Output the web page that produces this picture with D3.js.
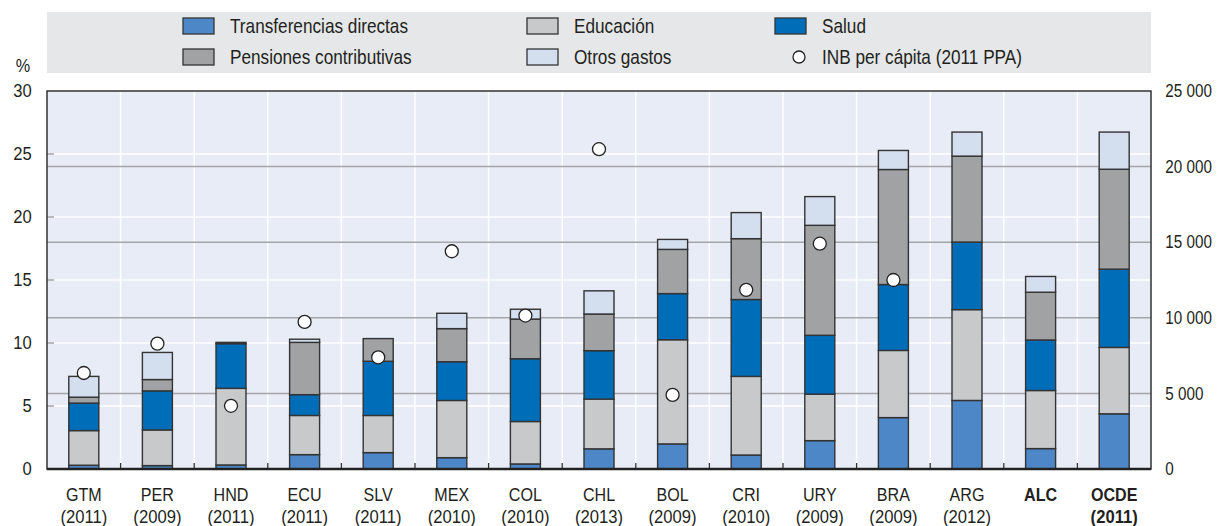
<!DOCTYPE html>
<html lang="es">
<head>
    <meta charset="UTF-8">
    <script src="https://d3js.org/d3.v7.min.js"></script>
    <title>Gasto social e INB per cápita</title>
    <style>
        body {
            margin: 0;
            padding: 0;
            background-color: white;
        }
        svg text {
            font-family: "Liberation Sans Narrow", "Arial Narrow", "Liberation Sans", Arial, sans-serif;
            fill: #231f20;
        }
    </style>
</head>
<body>
    <svg id="chart" width="1221" height="526"></svg>
    <script>
        // data
        const categories = ["GTM", "PER", "HND", "ECU", "SLV", "MEX", "COL", "CHL", "BOL", "CRI", "URY", "BRA", "ARG", "ALC", "OCDE"];
        const years = ["(2011)", "(2009)", "(2011)", "(2011)", "(2011)", "(2010)", "(2010)", "(2013)", "(2009)", "(2010)", "(2009)", "(2009)", "(2012)", "", "(2011)"];
        const boldCats = ["ALC", "OCDE"];

        const transferencias = [0.30, 0.27, 0.32, 1.14, 1.30, 0.90, 0.40, 1.60, 1.99, 1.11, 2.25, 4.08, 5.44, 1.62, 4.38];
        const educacion      = [2.75, 2.83, 6.08, 3.11, 2.95, 4.54, 3.37, 3.95, 8.27, 6.24, 3.69, 5.33, 7.21, 4.61, 5.27];
        const salud          = [2.18, 3.10, 3.55, 1.65, 4.30, 3.07, 4.98, 3.84, 3.66, 6.10, 4.67, 5.23, 5.36, 4.01, 6.21];
        const pensiones      = [0.47, 0.90, 0.10, 4.15, 1.80, 2.63, 3.15, 2.91, 3.51, 4.83, 8.73, 9.13, 6.82, 3.79, 7.93];
        const otros          = [1.65, 2.15, 0.00, 0.25, 0.00, 1.22, 0.78, 1.84, 0.79, 2.07, 2.28, 1.51, 1.91, 1.25, 2.95];
        const inb            = [6350, 8290, 4180, 9730, 7380, 14400, 10150, 21150, 4900, 11850, 14900, 12500, null, null, null];

        const seriesKeys = ["transferencias", "educacion", "salud", "pensiones", "otros"];
        const seriesLabels = {
            transferencias: "Transferencias directas",
            educacion: "Educación",
            salud: "Salud",
            pensiones: "Pensiones contributivas",
            otros: "Otros gastos"
        };
        const seriesColors = {
            transferencias: "#4d87c7",
            educacion: "#c8c9cb",
            salud: "#006db8",
            pensiones: "#a1a2a4",
            otros: "#d3deef"
        };

        const rows = categories.map((c, i) => ({
            cat: c,
            transferencias: transferencias[i],
            educacion: educacion[i],
            salud: salud[i],
            pensiones: pensiones[i],
            otros: otros[i],
            inb: inb[i]
        }));

        const svg = d3.select("#chart");
        const margin = {top: 91, right: 70, bottom: 57, left: 47};
        const width = 1221 - margin.left - margin.right;
        const height = 526 - margin.top - margin.bottom;

        const x = d3.scaleBand().domain(categories).range([margin.left, margin.left + width]).paddingInner(0).paddingOuter(0);
        const y = d3.scaleLinear().domain([0, 30]).range([margin.top + height, margin.top]);
        const y2 = d3.scaleLinear().domain([0, 25000]).range([margin.top + height, margin.top]);
        const barW = 30;

        // text squeezed horizontally to mimic the condensed face of the original
        function narrowText(parent, tx, ty, str, size, squeeze, anchor, weight) {
            return parent.append("text")
                .attr("transform", `translate(${tx},${ty}) scale(${squeeze},1)`)
                .attr("text-anchor", anchor || "start")
                .attr("font-size", size)
                .attr("font-weight", weight || "normal")
                .text(str);
        }

        // legend band
        svg.append("rect")
            .attr("x", 47).attr("y", 12)
            .attr("width", 1104).attr("height", 61)
            .attr("fill", "#e6e7e9");

        const legendItems = [
            {key: "transferencias", col: 0, row: 0},
            {key: "educacion", col: 1, row: 0},
            {key: "salud", col: 2, row: 0},
            {key: "pensiones", col: 0, row: 1},
            {key: "otros", col: 1, row: 1},
            {key: "inb", col: 2, row: 1}
        ];
        const legendColX = [183, 527, 775];
        const legendRowY = [26, 57];
        const legend = svg.append("g");
        legendItems.forEach(it => {
            const lx = legendColX[it.col];
            const ly = legendRowY[it.row];
            if (it.key === "inb") {
                legend.append("circle")
                    .attr("cx", lx + 24).attr("cy", ly)
                    .attr("r", 6)
                    .attr("fill", "white").attr("stroke", "#222").attr("stroke-width", 1.3);
                narrowText(legend, lx + 47, ly + 6.5, "INB per cápita (2011 PPA)", 20, 0.86);
            } else {
                legend.append("rect")
                    .attr("x", lx).attr("y", ly - 8)
                    .attr("width", 31).attr("height", 16)
                    .attr("fill", seriesColors[it.key])
                    .attr("stroke", "#333").attr("stroke-width", 1.3);
                narrowText(legend, lx + 47, ly + 6.5, seriesLabels[it.key], 20, 0.86);
            }
        });

        // plot background
        svg.append("rect")
            .attr("x", margin.left).attr("y", margin.top)
            .attr("width", width).attr("height", height)
            .attr("fill", "#e8ecf6");

        // white gridlines (left ticks)
        const leftTicks = [0, 5, 10, 15, 20, 25, 30];
        svg.append("g").selectAll("line")
            .data(leftTicks.filter(t => t > 0 && t < 30))
            .enter().append("line")
            .attr("x1", margin.left).attr("x2", margin.left + width)
            .attr("y1", d => y(d)).attr("y2", d => y(d))
            .attr("stroke", "white").attr("stroke-width", 1.5);

        // vertical white lines between categories
        const bounds = categories.slice(1).map(c => x(c));
        svg.append("g").selectAll("line")
            .data(bounds)
            .enter().append("line")
            .attr("x1", d => d).attr("x2", d => d)
            .attr("y1", margin.top).attr("y2", margin.top + height)
            .attr("stroke", "white").attr("stroke-width", 1.5);

        // gray gridlines (right ticks)
        const rightTicks = [0, 5000, 10000, 15000, 20000, 25000];
        svg.append("g").selectAll("line")
            .data(rightTicks.filter(t => t > 0 && t < 25000))
            .enter().append("line")
            .attr("x1", margin.left).attr("x2", margin.left + width)
            .attr("y1", d => y2(d)).attr("y2", d => y2(d))
            .attr("stroke", "#a3a5a8").attr("stroke-width", 1.5);

        // left tick marks
        svg.append("g").selectAll("line")
            .data(leftTicks.filter(t => t > 0 && t < 30))
            .enter().append("line")
            .attr("x1", margin.left).attr("x2", margin.left + 7)
            .attr("y1", d => y(d)).attr("y2", d => y(d))
            .attr("stroke", "#a3a5a8").attr("stroke-width", 1.5);

        // bottom tick marks at category boundaries
        svg.append("g").selectAll("line")
            .data(bounds)
            .enter().append("line")
            .attr("x1", d => d).attr("x2", d => d)
            .attr("y1", margin.top + height).attr("y2", margin.top + height - 6)
            .attr("stroke", "#333").attr("stroke-width", 1.3);

        // stacked bars
        const stack = d3.stack().keys(seriesKeys);
        const stacked = stack(rows);
        const barLayer = svg.append("g");
        stacked.forEach(layer => {
            barLayer.append("g")
                .selectAll("rect")
                .data(layer.filter(d => d[1] - d[0] > 0))
                .enter().append("rect")
                .attr("x", d => x(d.data.cat) + x.bandwidth() / 2 - barW / 2)
                .attr("width", barW)
                .attr("y", d => y(d[1]))
                .attr("height", d => y(d[0]) - y(d[1]))
                .attr("fill", seriesColors[layer.key])
                .attr("stroke", "#333")
                .attr("stroke-width", 1.4);
        });

        // INB dots
        svg.append("g").selectAll("circle")
            .data(rows.filter(d => d.inb !== null))
            .enter().append("circle")
            .attr("cx", d => x(d.cat) + x.bandwidth() / 2)
            .attr("cy", d => y2(d.inb))
            .attr("r", 6.5)
            .attr("fill", "white")
            .attr("stroke", "#222")
            .attr("stroke-width", 1.3);

        // frame
        svg.append("rect")
            .attr("x", margin.left).attr("y", margin.top)
            .attr("width", width).attr("height", height)
            .attr("fill", "none")
            .attr("stroke", "#333").attr("stroke-width", 1.5);
        svg.append("line")
            .attr("x1", margin.left).attr("x2", margin.left + width)
            .attr("y1", margin.top + height).attr("y2", margin.top + height)
            .attr("stroke", "#222").attr("stroke-width", 2.5);

        // left axis labels
        const yAxis = d3.axisLeft(y).tickValues(leftTicks).tickSize(0).tickPadding(16);
        const gy = svg.append("g")
            .attr("transform", `translate(${margin.left},0)`)
            .call(yAxis);
        gy.select(".domain").remove();
        gy.selectAll("text")
            .attr("font-size", 17.5)
            .attr("fill", "#231f20")
            .attr("transform", "scale(0.95,1)")
            .style("font-family", null);

        // right axis labels, space as thousands separator
        const fmt = d3.formatLocale({decimal: ",", thousands: " ", grouping: [3], currency: ["", ""]}).format(",d");
        const y2Axis = d3.axisRight(y2).tickValues(rightTicks).tickSize(0).tickPadding(16.5).tickFormat(fmt);
        const gy2 = svg.append("g")
            .attr("transform", `translate(${margin.left + width},0)`)
            .call(y2Axis);
        gy2.select(".domain").remove();
        gy2.selectAll("text")
            .attr("font-size", 17.5)
            .attr("fill", "#231f20")
            .attr("transform", "scale(0.87,1)")
            .style("font-family", null);

        narrowText(svg, 23, 72, "%", 18, 0.9, "middle");

        // x labels
        const xl = svg.append("g");
        categories.forEach((c, i) => {
            const cx = x(c) + x.bandwidth() / 2;
            const bold = boldCats.includes(c) ? "bold" : "normal";
            narrowText(xl, cx, 501, c, 18.5, 0.87, "middle", bold);
            if (years[i]) {
                narrowText(xl, cx, 523, years[i], 18.5, 0.9, "middle", bold);
            }
        });
    </script>
</body>
</html>
